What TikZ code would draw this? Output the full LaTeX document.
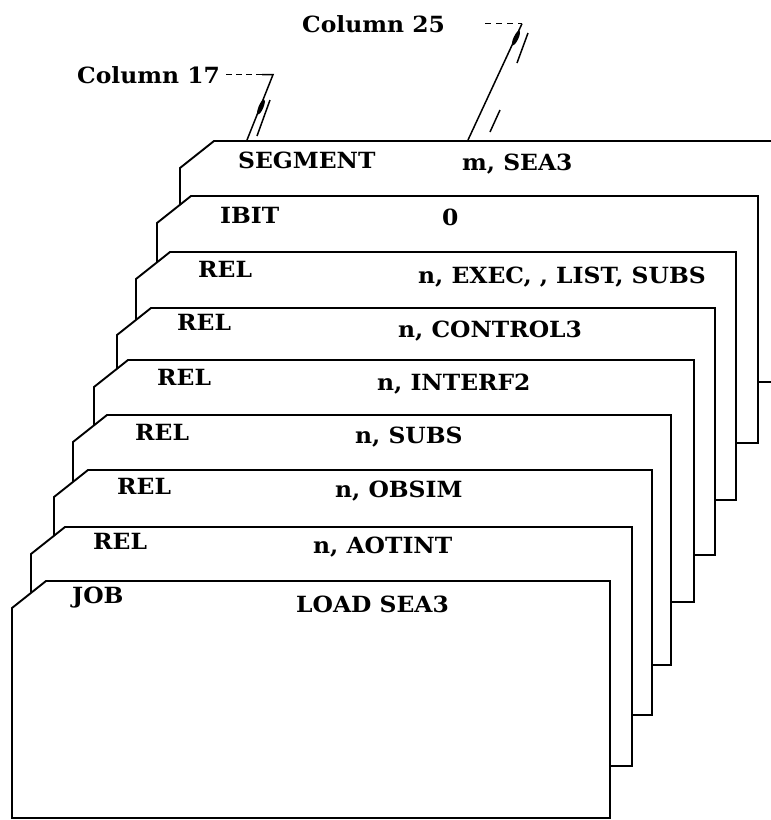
\documentclass[tikz,border=0pt]{standalone}
\usepackage{fontspec}
\newfontfamily\cardfont[FakeStretch=1.05]{DejaVu Serif}
\begin{document}
\begin{tikzpicture}[x=1pt,y=-1pt,
  card/.style={draw=black, fill=white, line width=1.9pt, line join=miter},
  lbl/.style={font=\cardfont\bfseries\fontsize{22.3}{26}\selectfont, anchor=base west, inner sep=0pt},
  lead/.style={line width=1.5pt},
  blob/.style={fill=black, draw=none},
]
\useasboundingbox (0,0) rectangle (771,820);
\begin{scope}
\clip (0,0) rectangle (771,820);
\foreach \L/\T/\R/\B in {180/141/779/382, 157/196/758/443, 136/252/736/500,
  117/308/715/555, 94/360/694/602, 73/415/671/665, 54/470/652/715,
  31/527/632/766, 12/581/610/818}
  \draw[card] (\L,\T+27) -- (\L+34,\T) -- (\R,\T) -- (\R,\B) -- (\L,\B) -- cycle;
\end{scope}

\node[lbl] (seg) at (238,168) {SEGMENT};
\node[lbl] (segarg) at (462,170) {m, SEA3};
\node[lbl] (ibit) at (220,223) {IBIT};
\node[lbl] (ibitarg) at (442,225) {0};
\node[lbl] (rel1) at (198,277) {REL};
\node[lbl] (rel1arg) at (418,283) {n, EXEC, , LIST, SUBS};
\node[lbl] (rel2) at (177,330) {REL};
\node[lbl] (rel2arg) at (398,337) {n, CONTROL3};
\node[lbl] (rel3) at (157,385) {REL};
\node[lbl] (rel3arg) at (377,390) {n, INTERF2};
\node[lbl] (rel4) at (135,440) {REL};
\node[lbl] (rel4arg) at (355,443) {n, SUBS};
\node[lbl] (rel5) at (117,494) {REL};
\node[lbl] (rel5arg) at (335,497) {n, OBSIM};
\node[lbl] (rel6) at (93,549) {REL};
\node[lbl] (rel6arg) at (313,553) {n, AOTINT};
\node[lbl] (job) at (72,603) {JOB};
\node[lbl] (jobarg) at (296,612) {LOAD SEA3};

\node[lbl] (c25) at (302,32) {Column 25};
\node[lbl] (c17) at (77,83) {Column 17};

% Column 17 pointer
\coordinate (x273) at (273,0);
\coordinate (k17) at (c17.east -| x273);
\coordinate (p17) at (247,140);
\draw[lead, dash pattern=on 6pt off 4pt] ([xshift=6pt]c17.east) -- ([xshift=42pt]c17.east);
\draw[lead] ([xshift=42pt]c17.east) -- (k17) -- (p17);
\coordinate (q17a) at (270,100);
\coordinate (q17b) at (257,136);
\draw[lead] (q17a) -- (q17b);
\fill[blob] (261,107) ellipse[x radius=8pt, y radius=2.4pt, rotate=67];

% Column 25 pointer
\coordinate (x522) at (522,0);
\coordinate (k25) at (c25.east -| x522);
\coordinate (p25) at (468,140);
\draw[lead, dash pattern=on 6pt off 5pt] ([xshift=40pt]c25.east) -- (k25);
\draw[lead] (k25) -- (p25);
\coordinate (q25a) at (528,33);
\coordinate (q25b) at (517,63);
\coordinate (q25c) at (500,110);
\coordinate (q25d) at (490,132);
\draw[lead] (q25a) -- (q25b);
\draw[lead] (q25c) -- (q25d);
\fill[blob] (516,38) ellipse[x radius=8pt, y radius=2.4pt, rotate=65];
\end{tikzpicture}
\end{document}
